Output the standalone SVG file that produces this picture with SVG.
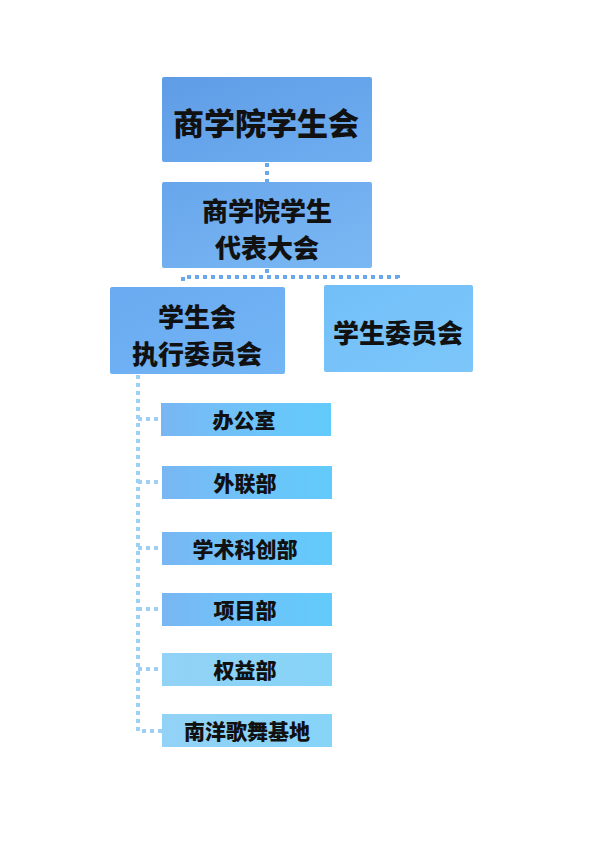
<svg xmlns="http://www.w3.org/2000/svg" width="595" height="842" viewBox="0 0 595 842">
<defs>
<linearGradient id="gTop" x1="0" y1="0" x2="1" y2="1"><stop offset="0" stop-color="#5f9ce6"/><stop offset="1" stop-color="#6eaef0"/></linearGradient>
<linearGradient id="gMid" x1="0" y1="0" x2="1" y2="1"><stop offset="0" stop-color="#68a6ec"/><stop offset="1" stop-color="#7ab8f4"/></linearGradient>
<linearGradient id="gExec" x1="0" y1="0" x2="1" y2="1"><stop offset="0" stop-color="#6aaaf0"/><stop offset="1" stop-color="#72b6f6"/></linearGradient>
<linearGradient id="gCom" x1="0" y1="0" x2="1" y2="1"><stop offset="0" stop-color="#72bff8"/><stop offset="1" stop-color="#7cc6fa"/></linearGradient>
<linearGradient id="gChild" x1="0" y1="0" x2="1" y2="0"><stop offset="0" stop-color="#78b6f2"/><stop offset="0.35" stop-color="#72c0f8"/><stop offset="1" stop-color="#62cbfb"/></linearGradient>
<linearGradient id="gLight" x1="0" y1="0" x2="1" y2="0"><stop offset="0" stop-color="#92d2f6"/><stop offset="1" stop-color="#86d4f8"/></linearGradient>
</defs>
<style>
.t{font-family:"Noto Sans CJK SC","Noto Sans",sans-serif;font-weight:900;fill:#111;text-anchor:middle;dominant-baseline:central}
.big{font-size:31px}.mid{font-size:26px}.small{font-size:21px}
.c1{fill:none;stroke:#6aa8ee;stroke-width:4;stroke-dasharray:4 4}
.c2{fill:none;stroke:#9ed0f4;stroke-width:4;stroke-dasharray:4 4}
</style>
<g id="connectors">
<path class="c1" d="M267 163 V182"/>
<path class="c1" d="M267 269 V277 M183 281 V277 H398 V281"/>
<path class="c2" d="M138 375 V731 H162"/>
<path class="c2" d="M138 419 H162 M138 482 H162 M138 548 H162 M138 609 H162 M138 669 H162"/>
</g>
<g id="n1"><rect x="162" y="77" width="210" height="85" rx="2" fill="url(#gTop)"/><text class="t big" x="266" y="121">商学院学生会</text></g>
<g id="n2"><rect x="162" y="182" width="210" height="86" rx="2" fill="url(#gMid)"/><text class="t mid" x="267" y="209">商学院学生</text><text class="t mid" x="267" y="246">代表大会</text></g>
<g id="n3"><rect x="110" y="287" width="175" height="87" rx="2" fill="url(#gExec)"/><text class="t mid" x="197" y="315">学生会</text><text class="t mid" x="197" y="352">执行委员会</text></g>
<g id="n4"><rect x="324" y="285" width="149" height="87" rx="2" fill="url(#gCom)"/><text class="t mid" x="398" y="331">学生委员会</text></g>
<g id="d1"><rect x="161" y="403" width="170" height="33" fill="url(#gChild)"/><text class="t small" x="244" y="419">办公室</text></g>
<g id="d2"><rect x="162" y="466" width="170" height="33" fill="url(#gChild)"/><text class="t small" x="245" y="482">外联部</text></g>
<g id="d3"><rect x="162" y="532" width="170" height="33" fill="url(#gChild)"/><text class="t small" x="245" y="548">学术科创部</text></g>
<g id="d4"><rect x="162" y="593" width="170" height="33" fill="url(#gChild)"/><text class="t small" x="245" y="609">项目部</text></g>
<g id="d5"><rect x="162" y="653" width="170" height="33" fill="url(#gLight)"/><text class="t small" x="245" y="669">权益部</text></g>
<g id="d6"><rect x="162" y="714" width="170" height="33" fill="url(#gLight)"/><text class="t small" x="247" y="730">南洋歌舞基地</text></g>
</svg>
